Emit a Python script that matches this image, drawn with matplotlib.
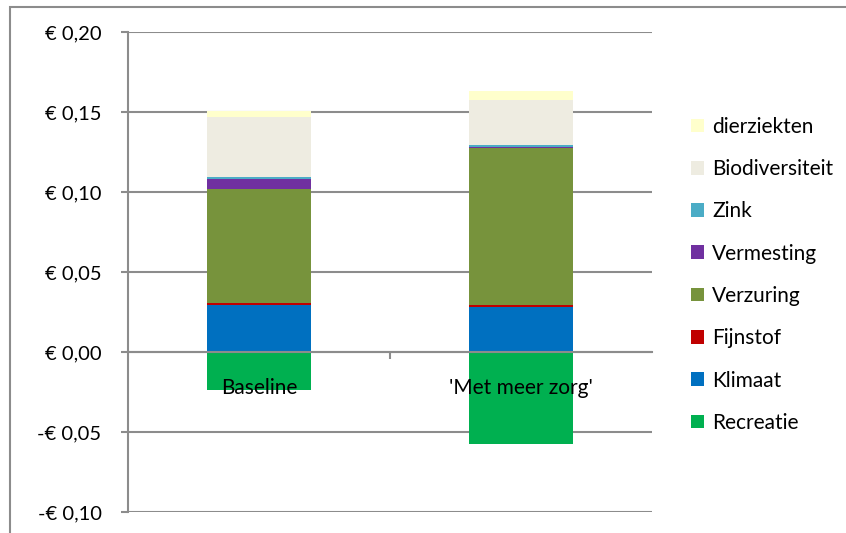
import numpy as np
import matplotlib.pyplot as plt
from matplotlib.patches import Rectangle

plt.rcParams['font.family'] = ['Lato', 'DejaVu Sans']

categories = ['Baseline', "'Met meer zorg'"]
# components in stacking order (bottom to top)
series = ['Klimaat', 'Fijnstof', 'Verzuring', 'Vermesting', 'Zink', 'Biodiversiteit', 'dierziekten']
klimaat = [0.0294, 0.0283]
fijnstof = [0.0010, 0.0011]
verzuring = [0.0715, 0.0984]
vermesting = [0.0064, 0.0002]
zink = [0.0013, 0.0014]
biodiversiteit = [0.0371, 0.0283]
dierziekten = [0.0041, 0.0056]
recreatie = [-0.0238, -0.0577]

colors = {'dierziekten': '#FFFFCC', 'Biodiversiteit': '#EEECE1', 'Zink': '#4BACC6',
          'Vermesting': '#7030A0', 'Verzuring': '#77933C', 'Fijnstof': '#C00000',
          'Klimaat': '#0070C0', 'Recreatie': '#00B050'}

values = [klimaat, fijnstof, verzuring, vermesting, zink, biodiversiteit, dierziekten]

fig = plt.figure(figsize=(8.46, 5.33), dpi=100)
ax = fig.add_axes([128/846, 21/533, 524/846, 480/533])

# chart area border (runs off the right and bottom edge)
fig.patches.append(Rectangle((10/846, -0.1), 1.5, (533-7)/533 + 0.1, transform=fig.transFigure,
                             fill=False, edgecolor='#8c8c8c', linewidth=1.5))

x = np.arange(len(categories))
w = 0.4
handles = {}
bottom = np.zeros(len(categories))
for name, vals in zip(series, values):
    handles[name] = ax.bar(x, vals, w, bottom=bottom, color=colors[name], zorder=1, label=name)
    bottom += np.array(vals)
handles['Recreatie'] = ax.bar(x, recreatie, w, color=colors['Recreatie'], zorder=1, label='Recreatie')

ax.set_xlim(-0.5, 1.5)
ax.set_ylim(-0.10, 0.20)
yt = np.arange(-0.10, 0.201, 0.05)
ax.set_yticks(yt)
ax.set_yticklabels([('-' if v < -1e-9 else '') + '€ ' + f'{abs(v):.2f}'.replace('.', ',') for v in yt],
                   fontsize=14.5)
for v in yt:
    ax.axhline(v, color='#8c8c8c', linewidth=1.5, zorder=0.5)

for s in ['top', 'right']:
    ax.spines[s].set_visible(False)
ax.spines['left'].set_color('#8c8c8c')
ax.spines['left'].set_linewidth(1.5)
ax.spines['bottom'].set_position(('data', 0))
ax.spines['bottom'].set_color('#8c8c8c')
ax.spines['bottom'].set_linewidth(1.5)
ax.tick_params(axis='y', length=5, width=1.5, color='#8c8c8c', pad=14)

ax.set_xticks(x)
ax.set_xticklabels(categories, fontsize=15)
ax.tick_params(axis='x', which='major', length=0, pad=19)
ax.set_xticks([0.5], minor=True)
ax.tick_params(axis='x', which='minor', length=5, width=1.5, color='#8c8c8c')

order = ['dierziekten', 'Biodiversiteit', 'Zink', 'Vermesting', 'Verzuring', 'Fijnstof', 'Klimaat', 'Recreatie']
fig.legend([handles[n] for n in order], order, loc='upper left', bbox_to_anchor=(672/846, 1 - 98/533),
           frameon=False, fontsize=15, handlelength=0.63, handleheight=0.63, handletextpad=0.4,
           labelspacing=1.07)

plt.savefig('out.png', dpi=100)
